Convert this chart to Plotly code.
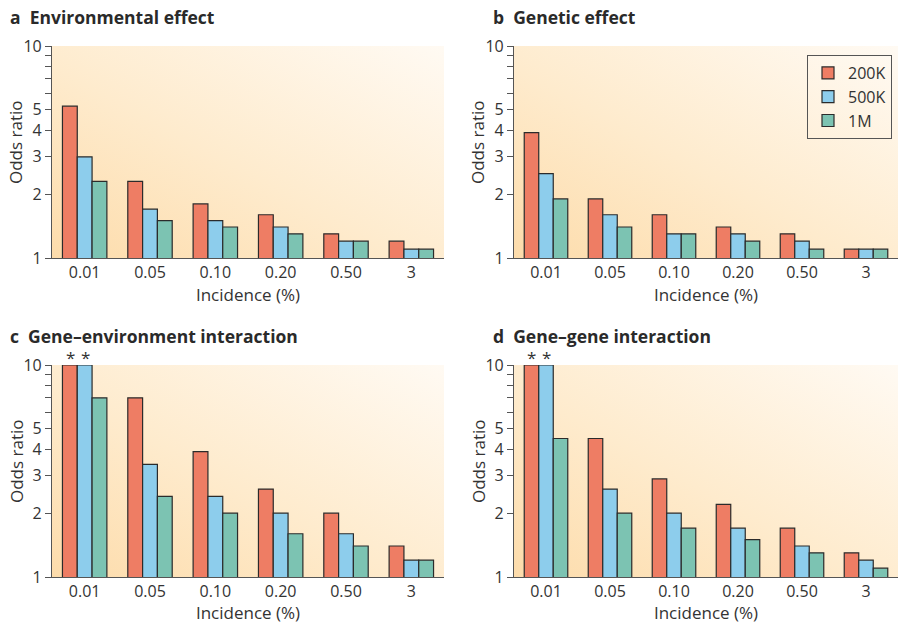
import base64
import plotly.graph_objects as go

W, H = 898, 624

categories = ["0.01", "0.05", "0.10", "0.20", "0.50", "3"]
series_names = ["200K", "500K", "1M"]

env_200k = [5.2, 2.3, 1.8, 1.6, 1.3, 1.2]
env_500k = [3.0, 1.7, 1.5, 1.4, 1.2, 1.1]
env_1m = [2.3, 1.5, 1.4, 1.3, 1.2, 1.1]

gen_200k = [3.9, 1.9, 1.6, 1.4, 1.3, 1.1]
gen_500k = [2.5, 1.6, 1.3, 1.3, 1.2, 1.1]
gen_1m = [1.9, 1.4, 1.3, 1.2, 1.1, 1.1]

gxe_200k = [10.0, 7.0, 3.9, 2.6, 2.0, 1.4]
gxe_500k = [10.0, 3.4, 2.4, 2.0, 1.6, 1.2]
gxe_1m = [7.0, 2.4, 2.0, 1.6, 1.4, 1.2]

gxg_200k = [10.0, 4.5, 2.9, 2.2, 1.7, 1.3]
gxg_500k = [10.0, 2.6, 2.0, 1.7, 1.4, 1.2]
gxg_1m = [4.5, 2.0, 1.7, 1.5, 1.3, 1.1]

panel_letters = ["a", "b", "c", "d"]
panel_titles = ["Environmental effect", "Genetic effect",
                "Gene\u2013environment interaction", "Gene\u2013gene interaction"]

ytick_vals = [1, 2, 3, 4, 5, 6, 7, 8, 9, 10]
ytick_text = ["1", "2", "3", "4", "5", "", "", "", "", "10"]

panels = [
    [env_200k, env_500k, env_1m],
    [gen_200k, gen_500k, gen_1m],
    [gxe_200k, gxe_500k, gxe_1m],
    [gxg_200k, gxg_500k, gxg_1m],
]
# asterisk marks (series index, category index) for bars truncated at 10
asterisks = {2: [(0, 0), (1, 0)], 3: [(0, 0), (1, 0)]}

colors = ["#ee7d64", "#8dcdec", "#7cc3b2"]

# pixel layout
xdom_px = [(52, 444), (514, 898), (52, 444), (514, 898)]
ydom_px = [(46, 258), (46, 258), (365, 577), (365, 577)]
ytitle_px = [(16, 142), (478, 142), (16, 461), (478, 461)]

fig = go.Figure()
FONT = "Open Sans"
TXT = "#333333"

svg = ('<svg xmlns="http://www.w3.org/2000/svg" width="100" height="100" viewBox="0 0 100 100" '
       'preserveAspectRatio="none"><defs><linearGradient id="g" x1="0" y1="1" x2="1" y2="0">'
       '<stop offset="0" stop-color="#fddcab"/><stop offset="0.45" stop-color="#feebcd"/>'
       '<stop offset="1" stop-color="#fffaf3"/></linearGradient></defs>'
       '<rect width="100" height="100" fill="url(#g)"/></svg>')
bg_src = "data:image/svg+xml;base64," + base64.b64encode(svg.encode()).decode()

images = []
annotations = []
layout_axes = {}
for p in range(4):
    idx = "" if p == 0 else str(p + 1)
    xa = "x" + idx
    ya = "y" + idx
    for s in range(3):
        fig.add_trace(go.Bar(
            x=categories, y=panels[p][s], name=series_names[s],
            xaxis=xa, yaxis=ya,
            marker=dict(color=colors[s], line=dict(color="#2b2b2b", width=1.2)),
            showlegend=(p == 1), legendgroup=series_names[s],
        ))
    x0, x1 = xdom_px[p]
    y0, y1 = ydom_px[p]
    layout_axes["xaxis" + idx] = dict(
        domain=[x0 / W, x1 / W], anchor=ya, type="category", automargin=False,
        showline=True, linecolor="#555555", linewidth=1.2, ticks="",
        tickfont=dict(size=16, color=TXT, family=FONT),
        title=dict(text="Incidence (%)", font=dict(size=17, color=TXT, family=FONT), standoff=3),
        showgrid=False, zeroline=False,
    )
    layout_axes["yaxis" + idx] = dict(
        domain=[1 - y1 / H, 1 - y0 / H], anchor=xa, type="log", range=[0, 1],
        automargin=False,
        tickvals=ytick_vals, ticktext=ytick_text, ticks="outside", ticklen=6,
        tickcolor="#555555", showline=True, linecolor="#555555", linewidth=1.2,
        tickfont=dict(size=16, color=TXT, family=FONT),
        showgrid=False, zeroline=False,
    )
    images.append(dict(source=bg_src, xref=xa + " domain", yref=ya + " domain",
                       x=0, y=1, sizex=1, sizey=1, xanchor="left", yanchor="top",
                       sizing="stretch", layer="below"))
    annotations.append(dict(
        text="<b>%s</b>  <b>%s</b>" % (panel_letters[p], panel_titles[p]),
        xref="paper", yref="paper", x=(8 if p % 2 == 0 else 491) / W,
        y=1 - (17 if p < 2 else 336) / H, xanchor="left", yanchor="middle",
        showarrow=False, font=dict(size=17.5, color="#2a2a2a", family=FONT),
    ))
    tx, ty = ytitle_px[p]
    annotations.append(dict(
        text="Odds ratio", textangle=-90, xref="paper", yref="paper",
        x=tx / W, y=1 - ty / H, xanchor="center", yanchor="middle",
        showarrow=False, font=dict(size=17, color=TXT, family=FONT),
    ))
    for (s, c) in asterisks.get(p, []):
        annotations.append(dict(
            text="*", xref=xa, yref=ya, x=categories[c], y=1,
            xshift=(s - 1) * 14.7, yshift=8, showarrow=False,
            font=dict(size=17, color="#333333", family=FONT),
        ))

fig.update_layout(
    width=W, height=H, margin=dict(l=0, r=0, t=0, b=0, autoexpand=False),
    paper_bgcolor="white", plot_bgcolor="rgba(0,0,0,0)",
    barmode="group", bargap=0.32, bargroupgap=0,
    images=images, annotations=annotations,
    legend=dict(x=892 / W, y=1 - 55 / H, xanchor="right", yanchor="top",
                bordercolor="#555555", borderwidth=1, bgcolor="rgba(0,0,0,0)",
                font=dict(size=16, color=TXT, family=FONT), tracegroupgap=0,
                itemwidth=30),
    showlegend=True,
    **layout_axes,
)

fig.write_html("out.html", config={"displayModeBar": False},
               post_script="document.body.style.margin='0';document.body.style.overflow='hidden';")
